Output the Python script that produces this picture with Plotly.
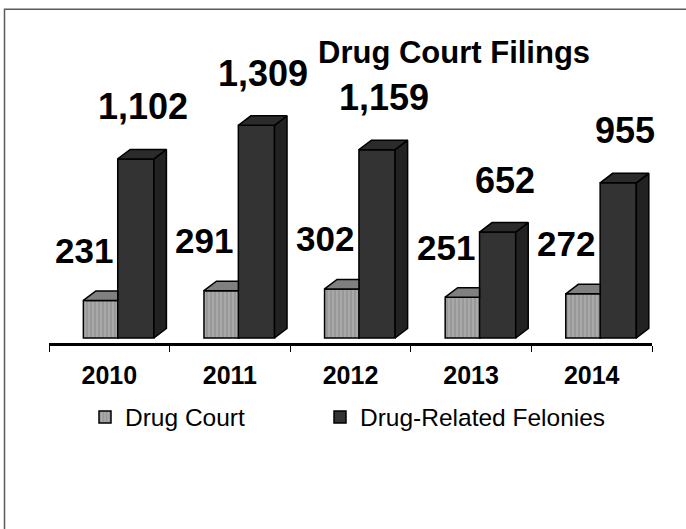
import plotly.graph_objects as go

# ---------------- data ----------------
years = ["2010", "2011", "2012", "2013", "2014"]
drug_court = [231, 291, 302, 251, 272]
felonies = [1102, 1309, 1159, 652, 955]
series_names = ["Drug Court", "Drug-Related Felonies"]
title_text = "Drug Court Filings"

# ---------------- layout constants ----------------
FONT = "Arial, 'Liberation Sans', sans-serif"
W, H = 686, 529
ML, MR, MT, MB = 49, 34, 20, 186
PW = W - ML - MR
PH = H - MT - MB
X_RANGE = [-0.5, len(years) - 0.5]
Y_PER_PX = 1 / 0.1625
Y_RANGE = [-5 * Y_PER_PX, 318 * Y_PER_PX]
X_PER_PX = (X_RANGE[1] - X_RANGE[0]) / PW

BAR_W = [0.29, 0.30]
BAR_OFF = [-0.215, 0.07]
DX = 12.5 * X_PER_PX
DY = 9.5 * Y_PER_PX

DC_FRONT = "#a9a9a9"
DC_STRIPE = "#7a7a7a"
DC_TOP = "#808080"
FE_FRONT = "#333333"
FE_TOP = "#2b2b2b"
FE_SIDE = "#222222"
EDGE = "#000000"

xs = list(range(len(years)))

fig = go.Figure()

# front faces (bars)
fig.add_trace(go.Bar(
    x=xs, y=drug_court, name=series_names[0], legend="legend",
    width=BAR_W[0], offset=BAR_OFF[0],
    marker=dict(color=DC_FRONT, line=dict(color=EDGE, width=1.5),
                pattern=dict(shape="|", fgcolor=DC_STRIPE, bgcolor=DC_FRONT,
                             size=4, solidity=0.35)),
))
fig.add_trace(go.Bar(
    x=xs, y=felonies, name=series_names[1], legend="legend2",
    width=BAR_W[1], offset=BAR_OFF[1],
    marker=dict(color=FE_FRONT, line=dict(color=EDGE, width=1.5)),
))


def poly_trace(px, py, color):
    return go.Scatter(x=px, y=py, mode="lines", fill="toself", fillcolor=color,
                      line=dict(color=EDGE, width=1.5), hoverinfo="skip",
                      showlegend=False)


# drug court top faces (clipped where the felony bar stands in front)
tx, ty = [], []
for i, v in zip(xs, drug_court):
    x0 = i + BAR_OFF[0]
    x1 = i + BAR_OFF[1]
    tx += [x0, x0 + DX, x1, x1, x0, None]
    ty += [v, v + DY, v + DY, v, v, None]
fig.add_trace(poly_trace(tx, ty, DC_TOP))

# felony side and top faces
sx, sy, fx, fy = [], [], [], []
for i, v in zip(xs, felonies):
    x0 = i + BAR_OFF[1]
    x1 = x0 + BAR_W[1]
    sx += [x1, x1 + DX, x1 + DX, x1, x1, None]
    sy += [0, DY, v + DY, v, 0, None]
    fx += [x0, x0 + DX, x1 + DX, x1, x0, None]
    fy += [v, v + DY, v + DY, v, v, None]
fig.add_trace(poly_trace(sx, sy, FE_SIDE))
fig.add_trace(poly_trace(fx, fy, FE_TOP))

# data labels
annotations = []
for i, v in zip(xs, drug_court):
    annotations.append(dict(
        x=i + BAR_OFF[0] + BAR_W[0] / 2, y=v, xref="x", yref="y",
        text=f"{v:,}", showarrow=False, xshift=-17, yshift=50,
        font=dict(family=FONT, size=35, color="#000", weight="bold")))
for i, v in zip(xs, felonies):
    annotations.append(dict(
        x=i + BAR_OFF[1] + BAR_W[1] / 2, y=v, xref="x", yref="y",
        text=f"{v:,}", showarrow=False, xshift=7, yshift=52,
        font=dict(family=FONT, size=36, color="#000", weight="bold")))

# title
annotations.append(dict(
    x=(454 - ML) / PW, y=(PH + MT - 52) / PH, xref="paper", yref="paper",
    text=title_text, showarrow=False, xanchor="center", yanchor="middle",
    font=dict(family=FONT, size=31, color="#000", weight="bold")))

LEG_Y = (PH + MT - 417) / PH
leg_common = dict(orientation="h", xanchor="left", y=LEG_Y, yanchor="middle",
                  font=dict(family=FONT, size=24.5, color="#000"),
                  bgcolor="rgba(0,0,0,0)")

fig.update_layout(
    width=W, height=H,
    margin=dict(l=ML, r=MR, t=MT, b=MB, pad=0),
    paper_bgcolor="white", plot_bgcolor="white",
    barmode="overlay",
    annotations=annotations,
    showlegend=True,
    legend=dict(x=(85 - ML) / PW, **leg_common),
    legend2=dict(x=(320 - ML) / PW, **leg_common),
    xaxis=dict(range=X_RANGE, tickvals=xs, ticktext=years,
               showgrid=False, zeroline=False,
               showline=True, linecolor="#000", linewidth=2.5,
               ticks="", ticklabelstandoff=8,
               tickfont=dict(family=FONT, size=25, color="#000", weight="bold"),
               minor=dict(tick0=-0.5, dtick=1, ticks="outside", ticklen=6,
                          tickcolor="#000", tickwidth=1, showgrid=False)),
    yaxis=dict(range=Y_RANGE, visible=False, showgrid=False, zeroline=False),
    shapes=[dict(type="rect", xref="paper", yref="paper",
                 x0=(4.5 - ML) / PW, x1=(692 - ML) / PW,
                 y0=(PH + MT - 545) / PH, y1=(PH + MT - 9.3) / PH,
                 line=dict(color="#5a5a5a", width=1.5),
                 fillcolor="rgba(0,0,0,0)", layer="below")],
)

fig.write_html("out.html", config={"displayModeBar": False},
               post_script="document.body.style.margin='0';document.body.style.padding='0';")
